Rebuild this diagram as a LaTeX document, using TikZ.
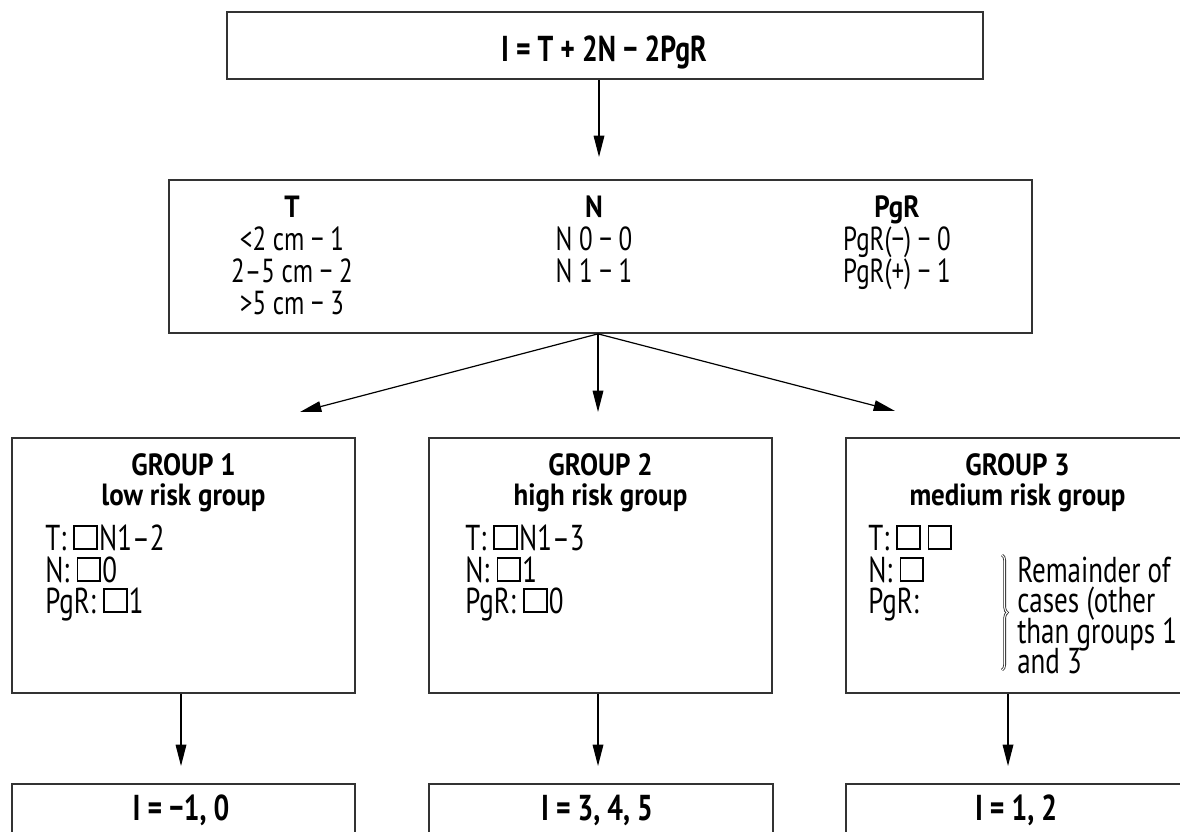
\documentclass[tikz,border=0pt]{standalone}
\usepackage{fontspec}
\setmainfont{PT Sans}[FakeStretch=0.75]
\newfontfamily\ttlfont{PT Sans}[FakeStretch=0.88]
\newfontfamily\topfont{PT Sans}[FakeStretch=0.77]
\usetikzlibrary{arrows.meta,decorations.pathreplacing}
\newcommand{\sqbx}{\hbox{\vrule width 1.4pt\vbox to 18.5pt{\hrule height 1.4pt\vfil\hbox to 15.6pt{}\vfil\hrule height 1.4pt}\vrule width 1.4pt}}
\begin{document}
\begin{tikzpicture}[x=0.75pt,y=-0.75pt,
  boxst/.style={draw=black!80, line width=1.3pt, rectangle, inner sep=0pt},
  arr/.style={draw=black, line width=0.9pt, -{Triangle[length=16pt,width=8pt]}},
  toptxt/.style={font=\topfont\fontsize{27}{27}\selectfont\bfseries, anchor=base, inner sep=0pt},
  ttl/.style={font=\ttlfont\fontsize{23}{23}\selectfont\bfseries, anchor=base, inner sep=0pt},
  bdy/.style={font=\fontsize{25}{24}\selectfont, anchor=base, inner sep=0pt},
  bdyl/.style={font=\fontsize{27}{24}\selectfont, anchor=base west, inner sep=0pt},
]
\useasboundingbox (0,0) rectangle (1180,831);
\clip (0,0) rectangle (1180,831);
% boxes
\node[boxst, minimum width={756*0.75pt}, minimum height={67*0.75pt}] (top) at (605,45.5) {};
\node[boxst, minimum width={863*0.75pt}, minimum height={153*0.75pt}] (mid) at (600.5,256.5) {};
\node[boxst, minimum width={343*0.75pt}, minimum height={255*0.75pt}] (g1) at (183.5,565.5) {};
\node[boxst, minimum width={343*0.75pt}, minimum height={255*0.75pt}] (g2) at (600.5,565.5) {};
\node[boxst, minimum width={343*0.75pt}, minimum height={255*0.75pt}] (g3) at (1017.5,565.5) {};
\node[boxst, minimum width={343*0.75pt}, minimum height={96*0.75pt}] (b1) at (183.5,832) {};
\node[boxst, minimum width={344*0.75pt}, minimum height={96*0.75pt}] (b2) at (601,832) {};
\node[boxst, minimum width={343*0.75pt}, minimum height={96*0.75pt}] (b3) at (1017.5,832) {};
% arrow tips
\coordinate (a0) at (599,157);
\coordinate (a1) at (300,412);
\coordinate (a2) at (598,412);
\coordinate (a3) at (895,411);
\coordinate (t1) at (181,766);
\coordinate (t2) at (598,766);
\coordinate (t3) at (1008,766);
\draw[arr] (top.south -| a0) -- (a0);
\draw[arr] (mid.south -| a2) -- (a1);
\draw[arr] (mid.south -| a2) -- (a2);
\draw[arr] (mid.south -| a2) -- (a3);
\draw[arr] (g1.south -| t1) -- (t1);
\draw[arr] (g2.south -| t2) -- (t2);
\draw[arr] (g3.south -| t3) -- (t3);
% top text
\node[toptxt] (ttop) at (604,62) {I = T + 2N − 2PgR};
% middle box
\node[ttl] (mT) at (292,217) {T};
\node[bdy] (mT1) at (292,250) {<2 cm − 1};
\node[bdy] (mT2) at (292,282) {2–5 cm − 2};
\node[bdy] (mT3) at (292,314) {>5 cm − 3};
\node[ttl] (mN) at (594,217) {N};
\node[bdy] (mN1) at (594,250) {N 0 − 0};
\node[bdy] (mN2) at (594,282) {N 1 − 1};
\node[ttl] (mP) at (897,217) {PgR};
\node[bdy] (mP1) at (897,250) {PgR(−) − 0};
\node[bdy] (mP2) at (897,282) {PgR(+) − 1};
% group 1
\node[ttl] (g1a) at (183.5,475) {GROUP 1};
\node[ttl] (g1b) at (183.5,505) {low risk group};
\node[bdyl] (g1c) at (45,550) {T: \sqbx\kern1pt N1–2};
\node[bdyl] (g1d) at (45,582) {N: \sqbx\kern1pt 0};
\node[bdyl] (g1e) at (45,613) {PgR: \sqbx\kern1pt 1};
% group 2
\node[ttl] (g2a) at (600.5,475) {GROUP 2};
\node[ttl] (g2b) at (600.5,505) {high risk group};
\node[bdyl] (g2c) at (465,550) {T: \sqbx\kern1pt N1–3};
\node[bdyl] (g2d) at (465,582) {N: \sqbx\kern1pt 1};
\node[bdyl] (g2e) at (465,613) {PgR: \sqbx\kern1pt 0};
% group 3
\node[ttl] (g3a) at (1017.5,475) {GROUP 3};
\node[ttl] (g3b) at (1017.5,505) {medium risk group};
\node[bdyl] (g3c) at (868,550) {T: \sqbx\kern5pt\sqbx};
\node[bdyl] (g3d) at (868,582) {N: \sqbx};
\node[bdyl] (g3e) at (868,613) {PgR:};
\node[bdyl] (r1) at (1017,582) {Remainder of};
\node[bdyl] (r2) at (1017,612) {cases (other};
\node[bdyl] (r3) at (1017,643) {than groups 1};
\node[bdyl] (r4) at (1017,673) {and 3};
\draw[decorate, decoration={brace, amplitude=4pt}, line width=2pt, black!85] (1002,555) -- (1002,670);
\draw[decorate, decoration={brace, amplitude=4pt}, line width=0.8pt, white] (1002,555) -- (1002,670);
% bottom texts
\node[toptxt] (bt1) at (181,820) {I = −1, 0};
\node[toptxt] (bt2) at (597,820) {I = 3, 4, 5};
\node[toptxt] (bt3) at (1016,820) {I = 1, 2};
\end{tikzpicture}
\end{document}
